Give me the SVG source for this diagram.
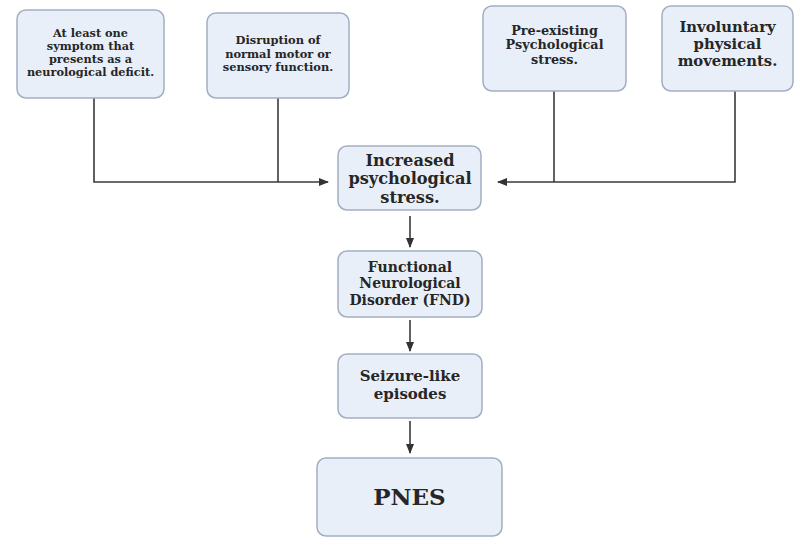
<svg xmlns="http://www.w3.org/2000/svg" width="794" height="537" viewBox="0 0 794 537">
<defs>
<marker id="ah" viewBox="0 0 10 10" refX="9" refY="5" markerWidth="10" markerHeight="10" markerUnits="userSpaceOnUse" orient="auto">
<path d="M0,1 L10,5 L0,9 z" fill="#333"/>
</marker>
<style>
.box{fill:#e9eff8;stroke:#a3afc0;stroke-width:1.5}
.t{font-family:"DejaVu Serif","Liberation Serif",serif;font-weight:bold;fill:#262626;text-anchor:middle}
.c{fill:none;stroke:#3a3a3a;stroke-width:1.6}
</style>
</defs>
<rect width="794" height="537" fill="#fff"/>
<g id="connectors">
<path class="c" d="M94,98 V182 H328" marker-end="url(#ah)"/>
<path class="c" d="M278,98 V182"/>
<path class="c" d="M735,91 V182 H498" marker-end="url(#ah)"/>
<path class="c" d="M554,91 V182"/>
<path class="c" d="M410,216 V247" marker-end="url(#ah)"/>
<path class="c" d="M410,320 V351" marker-end="url(#ah)"/>
<path class="c" d="M410,421 V453" marker-end="url(#ah)"/>
</g>
<g id="n1">
<rect class="box" x="17" y="10" width="147" height="88" rx="9"/>
<text class="t" font-size="11.3"><tspan x="90.5" y="36.5">At least one</tspan><tspan x="90.5" y="49.8">symptom that</tspan><tspan x="90.5" y="63.1">presents as a</tspan><tspan x="90.5" y="76.4">neurological deficit.</tspan></text>
</g>
<g id="n2">
<rect class="box" x="207" y="13" width="142" height="85" rx="9"/>
<text class="t" font-size="11.4"><tspan x="278" y="44">Disruption of</tspan><tspan x="278" y="57.5">normal motor or</tspan><tspan x="278" y="71">sensory function.</tspan></text>
</g>
<g id="n3">
<rect class="box" x="483" y="6" width="143" height="85" rx="9"/>
<text class="t" font-size="12.8"><tspan x="554.5" y="34.5">Pre-existing</tspan><tspan x="554.5" y="49">Psychological</tspan><tspan x="554.5" y="63.5">stress.</tspan></text>
</g>
<g id="n4">
<rect class="box" x="662" y="6" width="131" height="85" rx="9"/>
<text class="t" font-size="14.8"><tspan x="727.5" y="31.5">Involuntary</tspan><tspan x="727.5" y="48.5">physical</tspan><tspan x="727.5" y="65.5">movements.</tspan></text>
</g>
<g id="n5">
<rect class="box" x="338" y="146" width="143" height="64" rx="9"/>
<text class="t" font-size="16.2"><tspan x="410" y="165.5">Increased</tspan><tspan x="410" y="184">psychological</tspan><tspan x="410" y="202.5">stress.</tspan></text>
</g>
<g id="n6">
<rect class="box" x="338" y="251" width="144" height="66" rx="9"/>
<text class="t" font-size="14"><tspan x="410" y="271.5">Functional</tspan><tspan x="410" y="288">Neurological</tspan><tspan x="410" y="304.5">Disorder (FND)</tspan></text>
</g>
<g id="n7">
<rect class="box" x="338" y="354" width="144" height="64" rx="9"/>
<text class="t" font-size="15"><tspan x="410" y="381">Seizure-like</tspan><tspan x="410" y="399">episodes</tspan></text>
</g>
<g id="n8">
<rect class="box" x="317" y="458" width="185" height="78" rx="9"/>
<text class="t" font-size="23" x="409.5" y="505">PNES</text>
</g>
</svg>
